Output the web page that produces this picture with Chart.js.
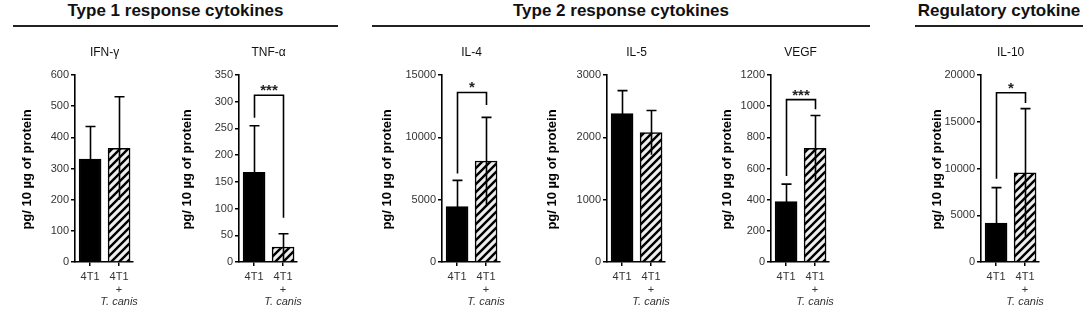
<!DOCTYPE html>
<html lang="en">
<head>
<meta charset="UTF-8">
<title>Cytokines</title>
<script src="https://cdn.jsdelivr.net/npm/chart.js"></script>
<style>
    body {
        margin: 0;
        width: 1084px;
        height: 310px;
        background: #fff;
        font-family: "Liberation Sans", Arial, sans-serif;
        position: relative;
        overflow: hidden;
    }
    .group {
        position: absolute;
        top: 1px;
        height: 20px;
        line-height: 20px;
        padding-bottom: 4px;
        border-bottom: 2px solid #222;
        font-size: 17px;
        font-weight: bold;
        text-align: center;
        color: #111;
        white-space: nowrap;
    }
    canvas {
        position: absolute;
        top: 40px;
    }
</style>
</head>
<body>
<div class="group" style="left:13px;width:325px">Type 1 response cytokines</div>
<div class="group" style="left:372px;width:498px">Type 2 response cytokines</div>
<div class="group" style="left:915px;width:168px">Regulatory cytokine</div>

<script>
    // data
    const panelNames = ['IFN-γ', 'TNF-α', 'IL-4', 'IL-5', 'VEGF', 'IL-10'];
    const yMax = [600, 350, 15000, 3000, 1200, 20000];
    const yStep = [100, 50, 5000, 1000, 200, 5000];
    const meanCtrl = [330, 168, 4450, 2380, 388, 4150];
    const meanCanis = [365, 28, 8100, 2075, 730, 9550];
    const sdCtrl = [105, 87, 2100, 370, 112, 3800];
    const sdCanis = [165, 25, 3500, 355, 210, 6850];
    // significance brackets: level of the bar, where each leg ends, stars
    const sigLevel = [null, 312, 13600, null, 1042, 18100];
    const sigLeftEnd = [null, 270, 7100, null, 552, 8900];
    const sigRightEnd = [null, 83, 12600, null, 980, 17000];
    const sigStars = ['', '***', '*', '', '***', '*'];
    const groupLabels = [['4T1'], ['4T1', '+', 'T. canis']];

    // layout (page pixels)
    const axisX = [75, 239, 442, 607, 771, 981];
    const yTitleGap = [48, 52, 55, 55, 44, 44];
    const FONT = '"Liberation Sans", Arial, sans-serif';

    // hatch pattern for the T. canis bars
    function makeHatch() {
        const c = document.createElement('canvas');
        c.width = 8; c.height = 8;
        const g = c.getContext('2d');
        g.fillStyle = '#eeeeee';
        g.fillRect(0, 0, 8, 8);
        g.strokeStyle = '#000';
        g.lineWidth = 2.4;
        g.beginPath();
        g.moveTo(-2, 10); g.lineTo(10, -2);
        g.moveTo(-6, 6); g.lineTo(6, -6);
        g.moveTo(2, 14); g.lineTo(14, 2);
        g.stroke();
        return g.createPattern(c, 'repeat');
    }

    const annotate = {
        id: 'annotate',
        afterDatasetsDraw(chart, args, opts) {
            const i = opts.panel;
            const ctx = chart.ctx;
            const xs = chart.scales.x, ys = chart.scales.y;
            const area = chart.chartArea;
            const means = [meanCtrl[i], meanCanis[i]];
            const sds = [sdCtrl[i], sdCanis[i]];
            ctx.save();
            ctx.strokeStyle = '#000';
            ctx.lineWidth = 1.6;

            // error bars (SD, cap on top)
            for (let k = 0; k < 2; k++) {
                const cx = Math.round(xs.getPixelForValue(k + 1)) + 0.5;
                const yt = ys.getPixelForValue(means[k] + sds[k]);
                const yb = ys.getPixelForValue(Math.max(0, means[k] - sds[k]));
                ctx.beginPath();
                ctx.moveTo(cx, yb); ctx.lineTo(cx, yt);
                ctx.moveTo(cx - 5, yt); ctx.lineTo(cx + 5, yt);
                ctx.stroke();
            }

            // significance bracket
            if (sigLevel[i] !== null) {
                const x1 = Math.round(xs.getPixelForValue(1)) + 0.5;
                const x2 = Math.round(xs.getPixelForValue(2)) + 0.5;
                const yl = ys.getPixelForValue(sigLevel[i]);
                ctx.beginPath();
                ctx.moveTo(x1, ys.getPixelForValue(sigLeftEnd[i]));
                ctx.lineTo(x1, yl);
                ctx.lineTo(x2, yl);
                ctx.lineTo(x2, ys.getPixelForValue(sigRightEnd[i]));
                ctx.stroke();
                ctx.fillStyle = '#222';
                ctx.font = 'bold 15px ' + FONT;
                ctx.textAlign = 'center';
                ctx.textBaseline = 'alphabetic';
                ctx.fillText(sigStars[i], (x1 + x2) / 2, yl);
            }

            // panel title
            const mid = (xs.getPixelForValue(1) + xs.getPixelForValue(2)) / 2;
            ctx.fillStyle = '#111';
            ctx.font = '12px ' + FONT;
            ctx.textAlign = 'center';
            ctx.textBaseline = 'middle';
            ctx.fillText(panelNames[i], mid, 13);

            // group labels under the x axis
            ctx.fillStyle = '#333';
            groupLabels.forEach((lines, k) => {
                const cx = xs.getPixelForValue(k + 1);
                lines.forEach((t, j) => {
                    ctx.font = (t === 'T. canis' ? 'italic ' : '') + '11px ' + FONT;
                    ctx.fillText(t, cx, 237 + j * 12.5);
                });
            });

            // y axis title
            ctx.fillStyle = '#000';
            ctx.font = 'bold 13px ' + FONT;
            ctx.translate(area.left - yTitleGap[i], (area.top + area.bottom) / 2 + 1);
            ctx.rotate(-Math.PI / 2);
            ctx.fillText('pg/ 10 µg of protein', 0, 0);
            ctx.restore();
        }
    };

    const hatch = makeHatch();

    panelNames.forEach((name, i) => {
        const canvas = document.createElement('canvas');
        canvas.style.left = (axisX[i] - 70) + 'px';
        canvas.width = 140;
        canvas.height = 270;
        canvas.style.width = '140px';
        canvas.style.height = '270px';
        document.body.appendChild(canvas);

        new Chart(canvas, {
            type: 'bar',
            data: {
                datasets: [{
                    data: [{ x: 1, y: meanCtrl[i] }, { x: 2, y: meanCanis[i] }],
                    backgroundColor: ['#000', hatch],
                    borderColor: '#000',
                    borderWidth: 1.5,
                    barThickness: 22
                }]
            },
            options: {
                responsive: false,
                animation: false,
                events: [],
                layout: { padding: { left: 0, right: 12, top: 35, bottom: 0 } },
                plugins: {
                    legend: { display: false },
                    tooltip: { enabled: false },
                    annotate: { panel: i }
                },
                scales: {
                    x: {
                        type: 'linear',
                        offset: false,
                        min: 0.48,
                        max: 2.48,
                        afterBuildTicks: s => { s.ticks = [{ value: 1 }, { value: 2 }]; },
                        afterFit: s => { s.height = 48; },
                        ticks: { callback: () => '' },
                        grid: { offset: false, drawOnChartArea: false, drawTicks: true, tickLength: 4, color: '#000', lineWidth: 1.5 },
                        border: { color: '#000', width: 1.6 }
                    },
                    y: {
                        min: 0,
                        max: yMax[i],
                        afterFit: s => { s.width = 70; },
                        ticks: {
                            stepSize: yStep[i],
                            color: '#333',
                            font: { family: FONT, size: 11 },
                            padding: 2,
                            callback: v => String(v)
                        },
                        grid: { drawOnChartArea: false, drawTicks: true, tickLength: 4, color: '#000', lineWidth: 1.5 },
                        border: { color: '#000', width: 1.6 }
                    }
                }
            },
            plugins: [annotate]
        });
    });
</script>
</body>
</html>
